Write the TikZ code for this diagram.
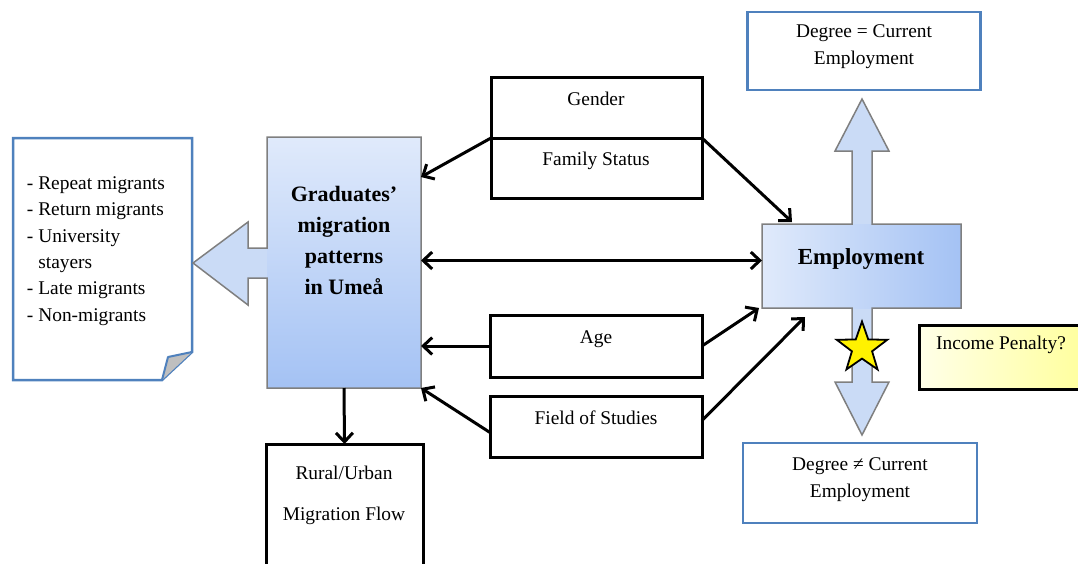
\documentclass[tikz,border=0pt]{standalone}
\usepackage{fontspec}
\setmainfont{Liberation Serif}
\usetikzlibrary{arrows.meta,shapes.geometric,calc}

\definecolor{calloutline}{HTML}{7F7F7F}
\definecolor{notebd}{HTML}{4F81BD}
\definecolor{lightfill}{HTML}{CADBF6}
\definecolor{gradtop}{HTML}{E0EAFB}
\definecolor{gradbot}{HTML}{A4C2F4}
\definecolor{penaltyL}{HTML}{FFFFE8}
\definecolor{penaltyR}{HTML}{FFFF99}

\begin{document}
\begin{tikzpicture}[x=1pt,y=-1pt,
  every node/.style={inner sep=0pt, outer sep=0pt},
  txt/.style={font=\fontsize{19.4}{26.4}\selectfont},
  factor/.style={draw=black, line width=3pt, minimum width=211pt, anchor=north west},
  outcome/.style={draw=notebd, line width=2.5pt, fill=white},
  arr/.style={line width=3pt, -{Straight Barb[length=9pt,width=17pt]}},
  darr/.style={line width=3pt, {Straight Barb[length=9pt,width=17pt]}-{Straight Barb[length=9pt,width=17pt]}},
  callout/.style={draw=calloutline, line width=1.5pt, line join=miter}
]
\useasboundingbox (0,0) rectangle (1078,563);
\clip (0,0) rectangle (1078,563);

% note sheet with folded corner listing migrant types
\node[minimum width=179pt, minimum height=242pt] (note) at (102.5,259) {};
\draw[notebd, line width=2.5pt, fill=white, line join=miter]
  (13,138) -- (192,138) -- (192,352) -- (162,380) -- (13,380) -- cycle;
\draw[notebd, line width=2pt, fill=black!25, line join=round]
  (192,352) -- (168,357) -- (162,380);
\node[txt, align=left, anchor=west] (types) at (27,251)
  {- Repeat migrants\\- Return migrants\\- University\\\phantom{- }stayers\\- Late migrants\\- Non-migrants};

% central callout box with arrow pointing to the note
\fill[lightfill] (267,248) -- (248,248) -- (248,222) -- (193,263) -- (248,305) -- (248,278) -- (267,278) -- cycle;
\node[minimum width=154pt, minimum height=251pt, top color=gradtop, bottom color=gradbot] (mig) at (344,262.5) {};
\draw[callout] (267,137) -- (421,137) -- (421,388) -- (267,388) -- (267,278) -- (248,278)
  -- (248,305) -- (193,263) -- (248,222) -- (248,248) -- (267,248) -- cycle;
\node[font=\bfseries\fontsize{22}{31}\selectfont, align=center] (migtext) at (344,240)
  {Graduates’\\migration\\patterns\\in Umeå};

% employment callout with up and down arrows
\fill[lightfill] (852,224) -- (852,151) -- (835,151) -- (862,99) -- (889,151) -- (872,151) -- (872,224) -- cycle;
\fill[lightfill] (852,308) -- (852,382) -- (835,382) -- (862,435) -- (889,382) -- (872,382) -- (872,308) -- cycle;
\node[minimum width=199pt, minimum height=84pt, left color=gradtop, right color=gradbot] (emp) at (861.5,266) {};
\draw[callout] (762,224) -- (852,224) -- (852,151) -- (835,151) -- (862,99) -- (889,151) -- (872,151)
  -- (872,224) -- (961,224) -- (961,308) -- (872,308) -- (872,382) -- (889,382) -- (862,435)
  -- (835,382) -- (852,382) -- (852,308) -- (762,308) -- cycle;
\node[font=\bfseries\fontsize{23}{28}\selectfont] (emptext) at (861,259) {Employment};
\node[star, star points=5, star point ratio=2.5, minimum size=53pt, fill=yellow, draw=black, line width=1.8pt] (star) at (862,348) {};

% outcome boxes
\node[outcome, minimum width=233pt, minimum height=78pt] (same) at (864,51) {};
\node[txt, align=center] (sametext) at (864,46.5) {Degree = Current\\Employment};
\node[outcome, minimum width=234pt, minimum height=80pt] (diff) at (860,483) {};
\node[txt, align=center] (difftext) at (860,479.5) {Degree ≠ Current\\Employment};

% income penalty note
\node[draw=black, line width=3pt, minimum width=175pt, minimum height=64pt, left color=penaltyL, right color=penaltyR, anchor=north west] (pen) at (919,325) {};
\node[txt] (pentext) at (1001,345) {Income Penalty?};

% factor boxes
\node[factor, minimum height=61pt] (gender) at (491,77) {};
\node[factor, minimum height=60pt] (family) at (491,138) {};
\node[factor, minimum height=62pt, minimum width=212pt] (age) at (490,315) {};
\node[factor, minimum height=61pt, minimum width=212pt] (field) at (490,396) {};
\node[factor, minimum width=157pt, minimum height=140pt] (rural) at (266,444) {};

\node[txt] (gendertext) at (596,99) {Gender};
\node[txt] (familytext) at (596,160.5) {Family Status};
\node[txt] (agetext) at (596,339) {Age};
\node[txt] (fieldtext) at (596,418) {Field of Studies};
\node[txt] (ruraltext1) at (344,473) {Rural/Urban};
\node[txt] (ruraltext2) at (344,516) {Migration Flow};

% connectors
\draw[arr] (family.north west) -- ($(mig.north east)+(0,40)$);
\draw[arr] (family.north east) -- ($(emp.north west)+(30,-2)$);
\draw[darr] ($(mig.east)+(0,-2)$) -- ($(emp.west)+(0,-5.5)$);
\draw[arr] (age.west) -- (age.west -| mig.east);
\draw[arr] ($(field.west)+(0,6)$) -- (mig.south east);
\draw[arr] (age.east) -- ($(emp.south west)+(-3,0)$);
\draw[arr] ($(field.east)+(0,-6)$) -- ($(emp.south west)+(43,9)$);
\draw[arr] (mig.south) -- (rural.north);
\end{tikzpicture}
\end{document}
